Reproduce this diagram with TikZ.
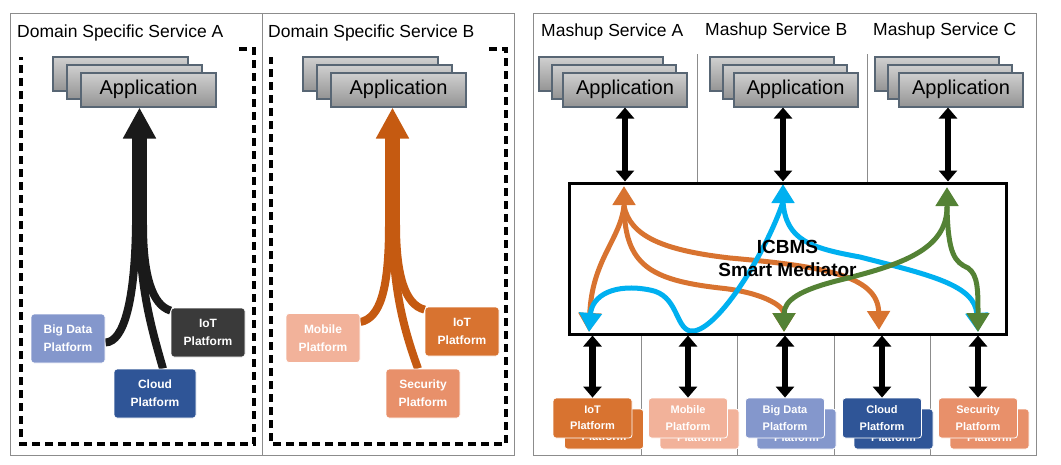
\documentclass[tikz,border=0pt]{standalone}
\usepackage{fontspec}
\setmainfont{Liberation Sans}
\usetikzlibrary{arrows.meta}
\usetikzlibrary{calc,backgrounds}
\usepackage{xcolor}

\definecolor{framegray}{RGB}{140,140,140}
\definecolor{appedge}{RGB}{88,102,116}
\definecolor{apptop}{RGB}{208,208,208}
\definecolor{appbot}{RGB}{148,148,148}
\definecolor{darkarrow}{RGB}{26,26,26}
\definecolor{rustarrow}{RGB}{197,90,17}
\definecolor{iotorange}{RGB}{216,115,48}
\definecolor{iotdark}{RGB}{58,58,58}
\definecolor{bigdatablue}{RGB}{132,151,204}
\definecolor{cloudblue}{RGB}{47,85,151}
\definecolor{mobilepink}{RGB}{242,178,154}
\definecolor{securityorange}{RGB}{232,144,106}
\definecolor{flowblue}{RGB}{0,176,240}
\definecolor{flowgreen}{RGB}{84,130,53}

\begin{document}
\begin{tikzpicture}[x=1pt,y=-1pt,
 panel/.style={draw=framegray,line width=1pt},
 dashbox/.style={line width=3.2pt,dash pattern=on 8pt off 5pt},
 title/.style={anchor=west,fill=white,inner sep=2pt,font=\fontsize{17.5}{20}\selectfont},
 appbox/.style={draw=appedge,line width=2pt,top color=apptop,bottom color=appbot,minimum height=34pt,inner sep=0pt,font=\fontsize{20}{22}\selectfont},
 plat/.style={draw=white,line width=.8pt,rounded corners=3pt,text=white,align=center,inner sep=0pt,minimum width=74pt,minimum height=49pt,font=\fontsize{12}{18}\selectfont\bfseries},
 mplat/.style={plat,minimum width=79pt,minimum height=40pt,font=\fontsize{11}{16.5}\selectfont\bfseries},
 trunk/.style={line width=15pt,-{Triangle[width=31pt,length=31pt]}},
 branch/.style={line width=8pt},
 dbl/.style={line width=6.5pt,{Triangle[width=18pt,length=11pt]}-{Triangle[width=18pt,length=11pt]}},
 flow/.style={line width=5pt},
 head/.style={-{Triangle[width=22pt,length=19pt]}},
 heads/.style={{Triangle[width=22pt,length=19pt]}-{Triangle[width=22pt,length=19pt]}}
]
\useasboundingbox (0,0) rectangle (1061,464);

\draw[panel] (10,13) rectangle (514,455);
\draw[panel] (262,13) -- (262,455);
\draw[panel] (533,13) rectangle (1036,455);
\draw[panel] (697,54) -- (697,183) (867,54) -- (867,183);
\foreach \x in {641,737,834,930} \draw[panel] (\x,334) -- (\x,455);

\draw[dashbox] (239,49) -- (254,49) -- (254,444) -- (21,444) -- (21,57);
\draw[dashbox] (489,49) -- (506,49) -- (506,444) -- (271,444) -- (271,57);

\node[title] (ttlA) at (15,33) {Domain Specific Service A};
\node[title] (ttlB) at (266,33) {Domain Specific Service B};
\node[title] (ttlMA) at (539,32) {Mashup Service A};
\node[title] (ttlMB) at (703,31) {Mashup Service B};
\node[title] (ttlMC) at (871,31) {Mashup Service C};

\foreach \n/\x/\w/\u/\v in {appA/148.5/135/28/14,appB/398.5/135/28/14,appMA/625/124/24/11,appMB/795.5/124/24/11,appMC/961/124/24/11} {
 \node[appbox,minimum width=\w] at (\x-\u,74) {};
 \node[appbox,minimum width=\w] at (\x-\v,81.5) {};
 \node[appbox,minimum width=\w] (\n) at (\x,89.5) {Application};
}

\node[plat,fill=bigdatablue] (bdA) at (68,338.5) {Big Data\\Platform};
\node[plat,fill=iotdark] (iotA) at (208,332.5) {IoT\\Platform};
\node[plat,fill=cloudblue,minimum width=82pt] (clA) at (155,393.5) {Cloud\\Platform};
\node[plat,fill=mobilepink] (mobB) at (323,338) {Mobile\\Platform};
\node[plat,fill=iotorange] (iotB) at (462,331.5) {IoT\\Platform};
\node[plat,fill=securityorange] (secB) at (423,393.5) {Security\\Platform};

\foreach \n/\x/\c/\t in {pIoT/592.5/iotorange/IoT,pMob/688/mobilepink/Mobile,pBD/785/bigdatablue/Big Data,pCl/882/cloudblue/Cloud,pSec/978/securityorange/Security} {
 \node[mplat,fill=\c] at (\x+11.5,429) {\t\\Platform};
 \node[mplat,fill=\c] (\n) at (\x,418) {\t\\Platform};
}

\node[draw,line width=3pt,minimum width=437pt,minimum height=151pt,align=center,font=\fontsize{19}{23}\selectfont\bfseries] (med) at (787.5,258.5) {ICBMS\\Smart Mediator};

\foreach \a/\x in {appMA/625,appMB/783,appMC/948} {
 \coordinate (t) at (\x,0);
 \draw[dbl] (t |- \a.south) -- (t |- med.north);
}
\foreach \p in {pIoT,pMob,pBD,pCl,pSec} \draw[dbl] (\p.north) -- (\p.north |- med.south);

\begin{scope}[on background layer]
\coordinate (mgA) at (139.5,232);
\draw[trunk,darkarrow] (mgA) -- (mgA |- appA.south);
\draw[branch,darkarrow] ($(bdA.east)+(0,4)$) .. controls (124,342) and (135,300) .. (136,225);
\draw[branch,darkarrow] ($(clA.north)+(8,0)$) .. controls (152,330) and (140,290) .. (139.5,225);
\draw[branch,darkarrow] ($(iotA.north west)+(0,3)$) .. controls (152,305) and (143,275) .. (143,225);

\coordinate (mgB) at (392.5,232);
\draw[trunk,rustarrow] (mgB) -- (mgB |- appB.south);
\draw[branch,rustarrow] ($(mobB.east)+(0,-16)$) .. controls (380,318) and (389,290) .. (389,225);
\draw[branch,rustarrow] ($(secB.north)+(-5,0)$) .. controls (404,330) and (393,290) .. (392.5,225);
\draw[branch,rustarrow] ($(iotB.north west)+(0,3)$) .. controls (405,305) and (396,275) .. (396,225);

\coordinate (oT) at (624,186);
\coordinate (bT) at (783,184);
\coordinate (gT) at (947,187);
\coordinate (kI) at (589,332);
\coordinate (kM) at (690,331);
\coordinate (kD) at (784,332);
\coordinate (kC) at (879,330);
\coordinate (kS) at (978,332);

\draw[flow,iotorange,heads] (oT) -- (624,206) .. controls (620,240) and (592,260) .. (kI);
\draw[flow,iotorange,head] (624,206) .. controls (625,265) and (650,280) .. (720,288) .. controls (760,292) and (784,305) .. (kD);
\draw[flow,iotorange,head] (624,206) .. controls (630,235) and (660,250) .. (730,258) .. controls (820,266) and (878,275) .. (kC);

\draw[flow,flowblue,heads] (bT) -- (783,202) .. controls (765,255) and (715,335) .. (kM) .. controls (675,327) and (678,295) .. (650,290) .. controls (615,283) and (592,295) .. (kI);
\draw[flow,flowblue,head] (783,202) .. controls (786,240) and (810,248) .. (860,257) .. controls (930,275) and (975,285) .. (kS);

\draw[flow,flowgreen,heads] (gT) -- (947,207) .. controls (947,250) and (900,265) .. (840,280) .. controls (800,290) and (784,300) .. (kD);
\draw[flow,flowgreen,head] (947,207) .. controls (948,255) and (955,262) .. (968,268) .. controls (978,275) and (978,290) .. (kS);
\end{scope}
\end{tikzpicture}
\end{document}
